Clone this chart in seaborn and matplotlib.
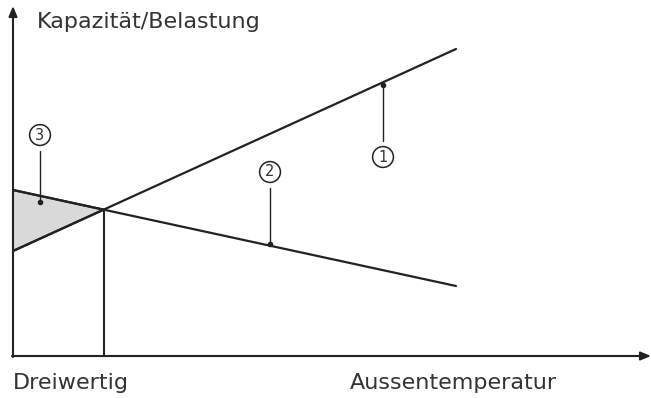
import numpy as np
import pandas as pd
import matplotlib
matplotlib.use("Agg")
import matplotlib.pyplot as plt
import seaborn as sns

# Werte (willkuerliche Einheiten)
temperatur = [0, 443]
kapazitaet = [105, 307]   # Linie 1: Kapazitaet der Waermepumpe
belastung = [166, 70]     # Linie 2: Heizlast des Gebaeudes
labels = ["1", "2", "3"]

sns.set_style("white")
plt.rcParams["font.family"] = ["DejaVu Sans"]

df = pd.DataFrame({
    "temp": temperatur * 2,
    "wert": kapazitaet + belastung,
    "serie": ["Kapazität"] * 2 + ["Belastung"] * 2,
})

fig = plt.figure(figsize=(6.51, 3.98), dpi=100)
ax = fig.add_axes([0, 0, 1, 1])
ax.set_xlim(-13, 638)
ax.set_ylim(-42, 356)
ax.axis("off")

sns.lineplot(data=df, x="temp", y="wert", units="serie", estimator=None,
             color="#222222", lw=1.6, ax=ax, legend=False)

# Schnittpunkt (Bivalenzpunkt)
k1 = np.polyfit(temperatur, kapazitaet, 1)
k2 = np.polyfit(temperatur, belastung, 1)
xs = (k2[1] - k1[1]) / (k1[0] - k2[0])
ys = np.polyval(k1, xs)

# graue Flaeche zwischen den Linien links vom Schnittpunkt
xf = np.array([0, xs])
ax.fill_between(xf, np.polyval(k1, xf), np.polyval(k2, xf),
                color="#d9d9d9", lw=0)
sns.lineplot(x=[0, xs], y=np.polyval(k1, [0, xs]), color="#222222", lw=1.6, ax=ax)
sns.lineplot(x=[0, xs], y=np.polyval(k2, [0, xs]), color="#222222", lw=1.6, ax=ax)
ax.plot([xs, xs], [0, ys], color="#222222", lw=1.5)

# Achsen mit Pfeilen
ax.annotate("", xy=(638, 0), xytext=(-1, 0),
            arrowprops=dict(arrowstyle="-|>,head_length=0.6,head_width=0.25",
                            color="#222222", lw=1.5, shrinkA=0, shrinkB=0))
ax.annotate("", xy=(0, 350), xytext=(0, -1),
            arrowprops=dict(arrowstyle="-|>,head_length=0.6,head_width=0.25",
                            color="#222222", lw=1.5, shrinkA=0, shrinkB=0))

# Beschriftungen mit Kreisnummern
pos = [(370, np.polyval(k1, 370) - 3, 199),
       (257, np.polyval(k2, 257) + 2, 184),
       (27, (np.polyval(k1, 27) + np.polyval(k2, 27)) / 2 + 15, 221)]
for lab, (x, y, yc) in zip(labels, pos):
    yend = yc + 16 if yc < y else yc - 16
    ax.plot([x, x], [y, yend], color="#222222", lw=1)
    ax.plot(x, y, "o", color="#222222", ms=3)
    ax.text(x, yc, lab, ha="center", va="center", fontsize=10.5, color="#333333",
            bbox=dict(boxstyle="circle,pad=0.2", fc="white", ec="#222222", lw=1.1))

ax.text(24, 334, "Kapazität/Belastung", fontsize=16, color="#333333",
        ha="left", va="center")
ax.text(0, -27, "Dreiwertig", fontsize=16, color="#333333", ha="left", va="center")
ax.text(337, -27, "Aussentemperatur", fontsize=16, color="#333333",
        ha="left", va="center")

fig.savefig("out.png", dpi=100)
